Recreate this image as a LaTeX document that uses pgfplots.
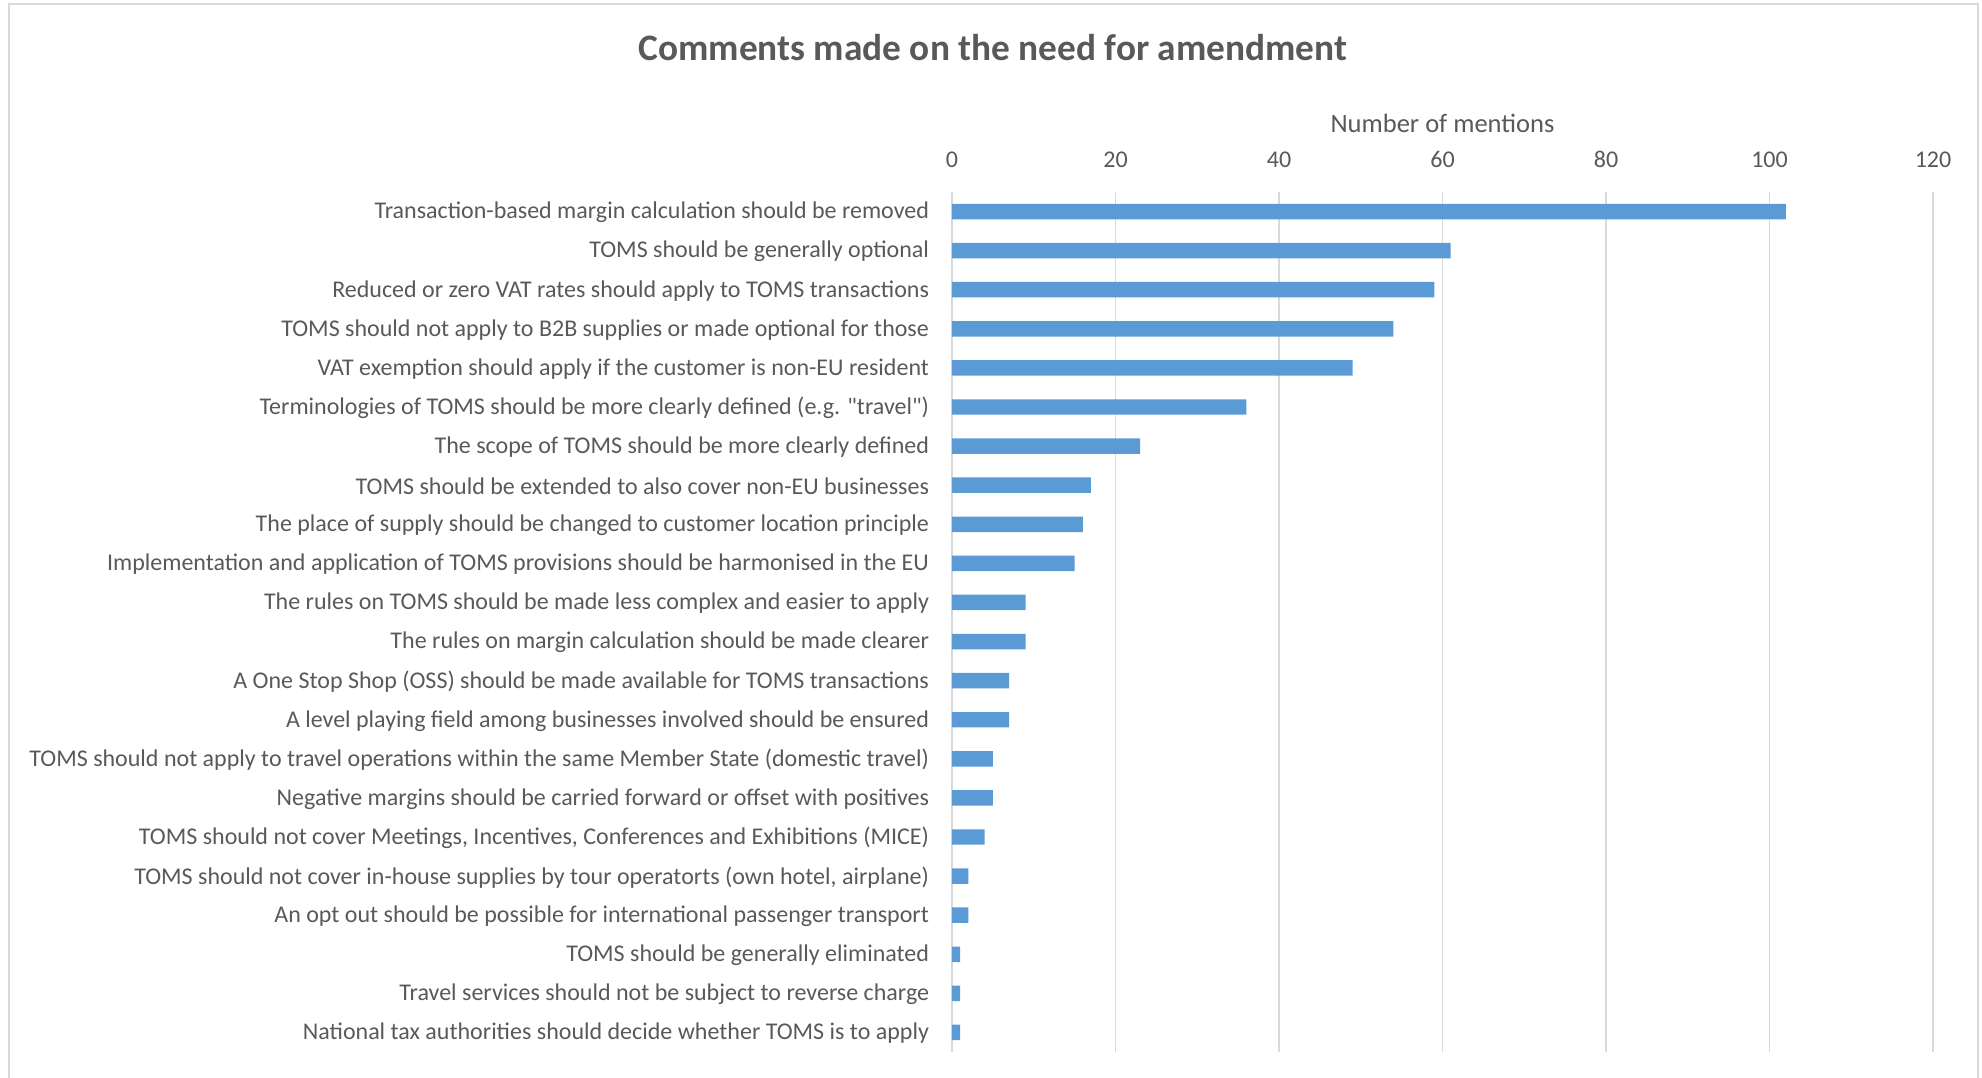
\documentclass[border=0pt]{standalone}
\usepackage{pgfplots}
\pgfplotsset{compat=1.18}
\usepackage{fontspec}
\setmainfont{Carlito}[Ligatures=TeXOff]
\definecolor{barblue}{HTML}{5B9BD5}
\definecolor{gridgray}{HTML}{D9D9D9}
\definecolor{textgray}{HTML}{595959}
\pgfplotstableread{
y x
0 102
1 61
2 59
3 54
4 49
5 36
6 23
7 17
8 16
9 15
10 9
11 9
12 7
13 7
14 5
15 5
16 4
17 2
18 2
19 1
20 1
21 1
}\mydata
\begin{document}
\begin{tikzpicture}
\path[use as bounding box] (0pt,0pt) rectangle (1486.5pt,808.5pt);
\draw[gridgray, line width=1.1pt] (6.75pt,-10pt) -- (6.75pt,805.5pt) -- (1483.5pt,805.5pt) -- (1483.5pt,-10pt);
\begin{axis}[
  at={(714pt,19.5pt)}, anchor=south west,
  scale only axis,
  width=735.75pt, height=645pt,
  xmin=0, xmax=120, ymin=-0.5, ymax=21.5,
  y dir=reverse,
  xtick={0,20,...,120},
  ytick={0,...,21},
  xticklabel pos=top,
  major tick length=0pt,
  axis line style={draw=none},
  xmajorgrids,
  grid style={gridgray, line width=1.3pt},
  /pgf/number format/assume math mode=true,
  ticklabel style={font=\fontsize{18}{21}\selectfont, text=textgray},
  xticklabel style={anchor=base, inner sep=0pt, yshift=18.4pt},
  yticklabel style={anchor=east, inner sep=0pt, xshift=-17pt, yshift=-0.8pt},
  yticklabels={
    {Transaction-based margin calculation should be removed},
    {TOMS should be generally optional},
    {Reduced or zero VAT rates should apply to TOMS transactions},
    {TOMS should not apply to B2B supplies or made optional for those},
    {VAT exemption should apply if the customer is non-EU resident},
    {Terminologies of TOMS should be more clearly defined (e.g. "travel")},
    {The scope of TOMS should be more clearly defined},
    {TOMS should be extended to also cover non-EU businesses},
    {The place of supply should be changed to customer location principle},
    {Implementation and application of TOMS provisions should be harmonised in the EU},
    {The rules on TOMS should be made less complex and easier to apply},
    {The rules on margin calculation should be made clearer},
    {A One Stop Shop (OSS) should be made available for TOMS transactions},
    {A level playing field among businesses involved should be ensured},
    {TOMS should not apply to travel operations within the same Member State (domestic travel)},
    {Negative margins should be carried forward or offset with positives},
    {TOMS should not cover Meetings, Incentives, Conferences and Exhibitions (MICE)},
    {TOMS should not cover in-house supplies by tour operatorts (own hotel, airplane)},
    {An opt out should be possible for international passenger transport},
    {TOMS should be generally eliminated},
    {Travel services should not be subject to reverse charge},
    {National tax authorities should decide whether TOMS is to apply}
  },
]
\addplot[xbar, bar width=11.6pt, fill=barblue, draw=none] table[x=x, y=y] {\mydata};
\end{axis}
\node[font=\bfseries\fontsize{28}{32}\selectfont, text=textgray] at (744.75pt,772.5pt) {Comments made on the need for amendment};
\node[font=\fontsize{19.9}{23}\selectfont, text=textgray] at (1081.9pt,716.25pt) {Number of mentions};
\end{tikzpicture}
\end{document}
